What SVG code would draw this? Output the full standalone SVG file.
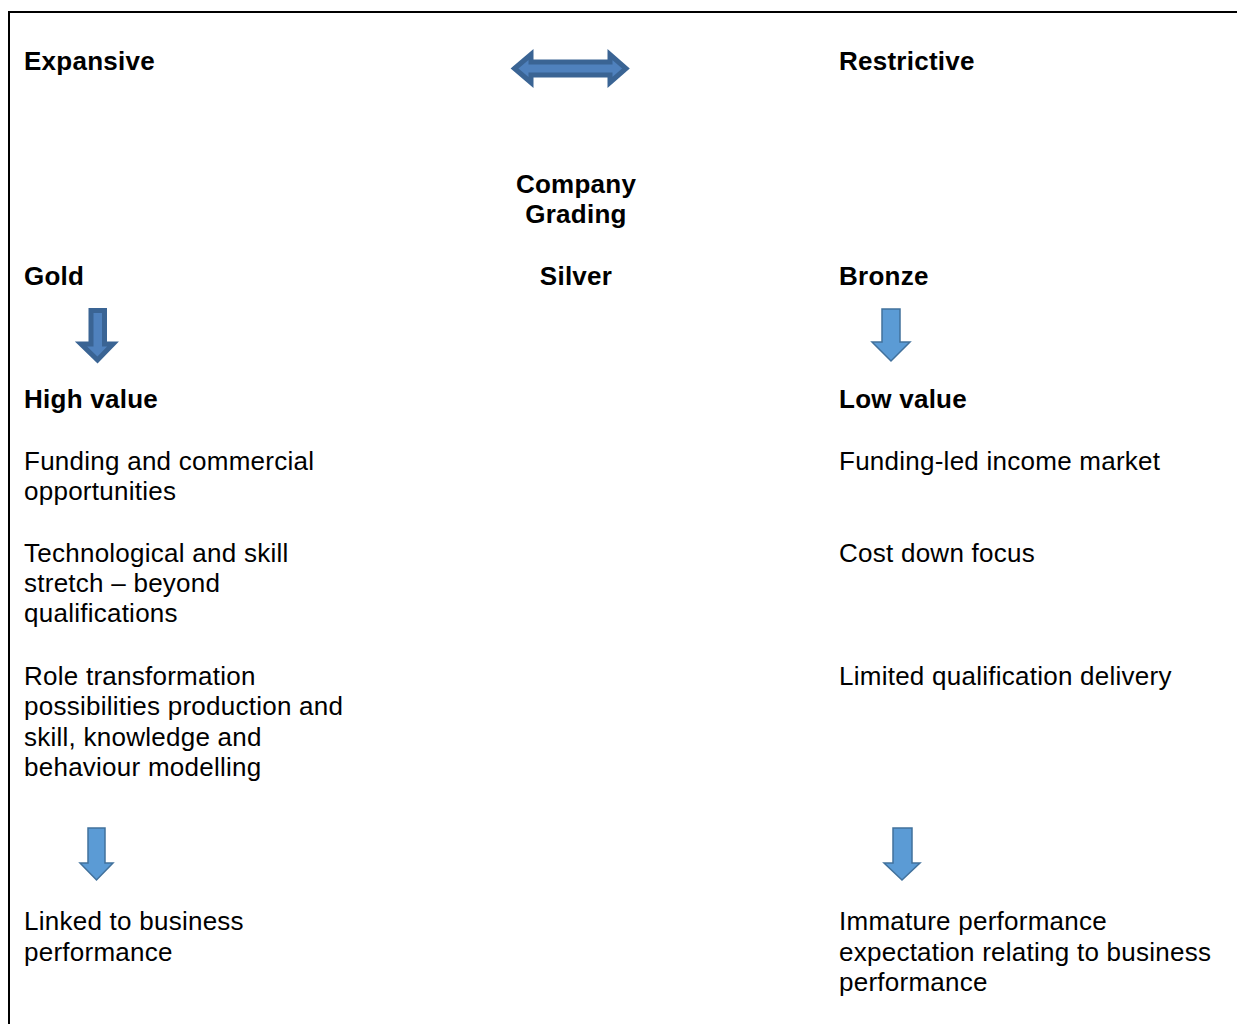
<svg xmlns="http://www.w3.org/2000/svg" width="1237" height="1024" viewBox="0 0 1237 1024">
<style>
text{font-family:"Liberation Sans",Arial,sans-serif;font-size:26px;fill:#000;letter-spacing:0.25px}
.b{font-weight:bold}
.c{text-anchor:middle}
.arrL{fill:#5B9BD5;stroke:#41719C;stroke-width:1.5;stroke-linejoin:miter}
.arrD{fill:#4F81BD;stroke:#3A6494;stroke-width:5;stroke-linejoin:miter;stroke-miterlimit:10}
</style>
<rect x="9" y="12" width="1240" height="1030" fill="#fff" stroke="#000" stroke-width="2"/>
<g id="connectors">
<polygon class="arrD" stroke-width="4" stroke-linejoin="round" points="514.5,68.5 531,54.5 531,62 610,62 610,54.5 626,68.5 610,82.5 610,75 531,75 531,82.5"/>
<polygon class="arrD" points="91,310.5 104.5,310.5 104.5,344 113,344 97.5,360 81,344 91,344"/>
<polygon class="arrL" points="882,309 900,309 900,342 910,342 891,361 872,342 882,342"/>
<polygon class="arrL" points="88,828 105,828 105,863 113,863 96.5,880 80,863 88,863"/>
<polygon class="arrL" points="893,828 912,828 912,863 920,863 902,880 884,863 893,863"/>
</g>
<g id="expansive"><text class="b" x="24" y="70">Expansive</text></g>
<g id="restrictive"><text class="b" x="839" y="70">Restrictive</text></g>
<g id="company-grading"><text class="b c" x="576" y="193">Company</text><text class="b c" x="576" y="223">Grading</text></g>
<g id="gold"><text class="b" x="24" y="285">Gold</text></g>
<g id="silver"><text class="b c" x="576" y="285">Silver</text></g>
<g id="bronze"><text class="b" x="839" y="285">Bronze</text></g>
<g id="high-value"><text class="b" x="24" y="408">High value</text></g>
<g id="low-value"><text class="b" x="839" y="408">Low value</text></g>
<g id="funding-commercial"><text x="24" y="470">Funding and commercial</text><text x="24" y="500">opportunities</text></g>
<g id="technological"><text x="24" y="562">Technological and skill</text><text x="24" y="592">stretch – beyond</text><text x="24" y="622">qualifications</text></g>
<g id="role-transformation"><text x="24" y="685">Role transformation</text><text x="24" y="715">possibilities production and</text><text x="24" y="746">skill, knowledge and</text><text x="24" y="776">behaviour modelling</text></g>
<g id="funding-led"><text x="839" y="470">Funding-led income market</text></g>
<g id="cost-down"><text x="839" y="562">Cost down focus</text></g>
<g id="limited-qualification"><text x="839" y="685">Limited qualification delivery</text></g>
<g id="linked-business"><text x="24" y="930">Linked to business</text><text x="24" y="961">performance</text></g>
<g id="immature-performance"><text x="839" y="930">Immature performance</text><text x="839" y="961">expectation relating to business</text><text x="839" y="991">performance</text></g>
</svg>
